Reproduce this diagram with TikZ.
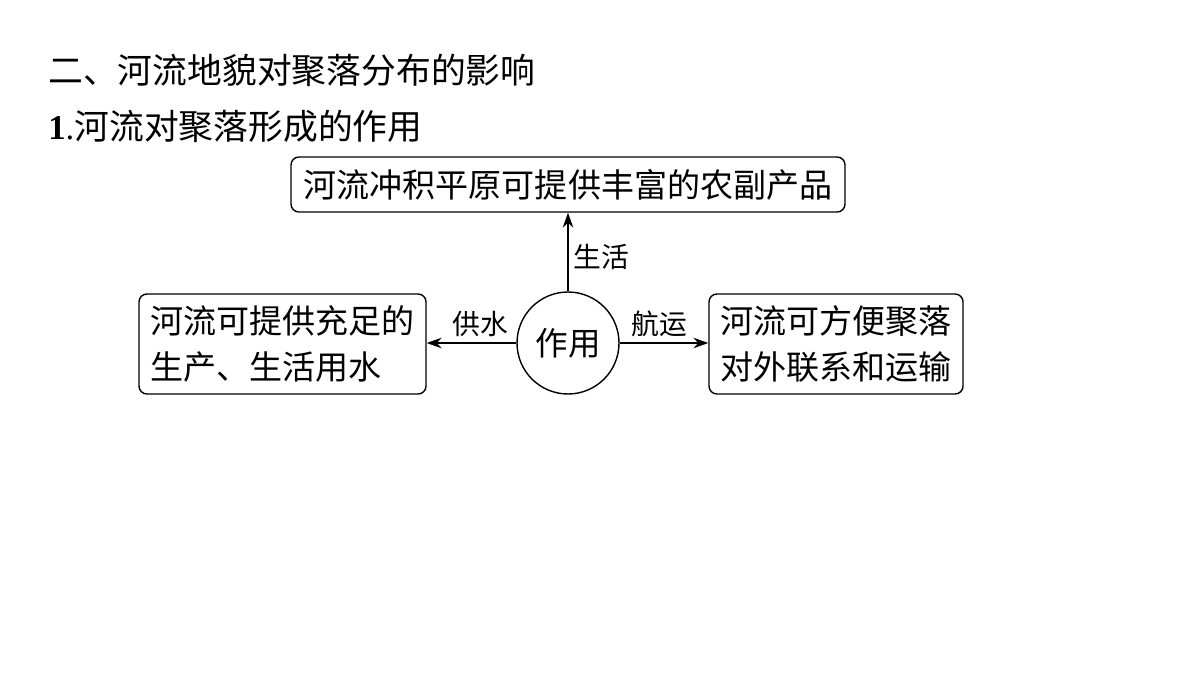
\documentclass[tikz,border=0pt]{standalone}
\usepackage{fontspec}
\setmainfont{Liberation Serif}
\newfontfamily\cjk{Noto Sans CJK SC}
\usetikzlibrary{arrows.meta}

\tikzset{
  infobox/.style={draw, line width=0.8pt, rounded corners=4.5pt, align=center, inner sep=0pt,
    font=\cjk\fontsize{18.8}{26}\selectfont},
  hub/.style={draw, circle, line width=0.8pt, minimum size=2.04cm, inner sep=0pt,
    font=\cjk\fontsize{18.5}{22}\selectfont},
  flow/.style={-{Stealth[length=8.5pt,width=6pt]}, line width=0.8pt},
  flowlabel/.style={font=\cjk\fontsize{15.8}{18}\selectfont, inner sep=3pt}
}

\begin{document}
\begin{tikzpicture}
  \useasboundingbox[fill=white] (0,0) rectangle (24,13.5);
  % Headings
  \node[anchor=west, inner sep=0pt, font=\cjk\fontsize{19.8}{22}\selectfont] (head) at (0.96,12.1) {二、河流地貌对聚落分布的影响};
  \node[anchor=west, inner sep=0pt, font=\fontsize{19.8}{22}\selectfont] (sub) at (0.96,10.98) {\textbf{1}.{\cjk 河流对聚落形成的作用}};
  % Centre and outcome boxes
  \node[hub] (act) at (11.36,6.64) {作用};
  \node[infobox, minimum width=11.08cm, minimum height=1.1cm] (life) at (11.36,9.81) {河流冲积平原可提供丰富的农副产品};
  \node[infobox, align=left, minimum width=5.74cm, minimum height=2cm] (water) at (5.65,6.62) {河流可提供充足的\\生产、生活用水};
  \node[infobox, minimum width=5.08cm, minimum height=2cm] (ship) at (16.72,6.62) {河流可方便聚落\\对外联系和运输};
  % Arrows
  \draw[flow] (act) -- node[flowlabel, right, yshift=-3pt] {生活} (life);
  \draw[flow] (act) -- node[flowlabel, above, xshift=0.18cm] {供水} (water.east |- act);
  \draw[flow] (act) -- node[flowlabel, above, xshift=-0.1cm] {航运} (ship.west |- act);
\end{tikzpicture}
\end{document}
